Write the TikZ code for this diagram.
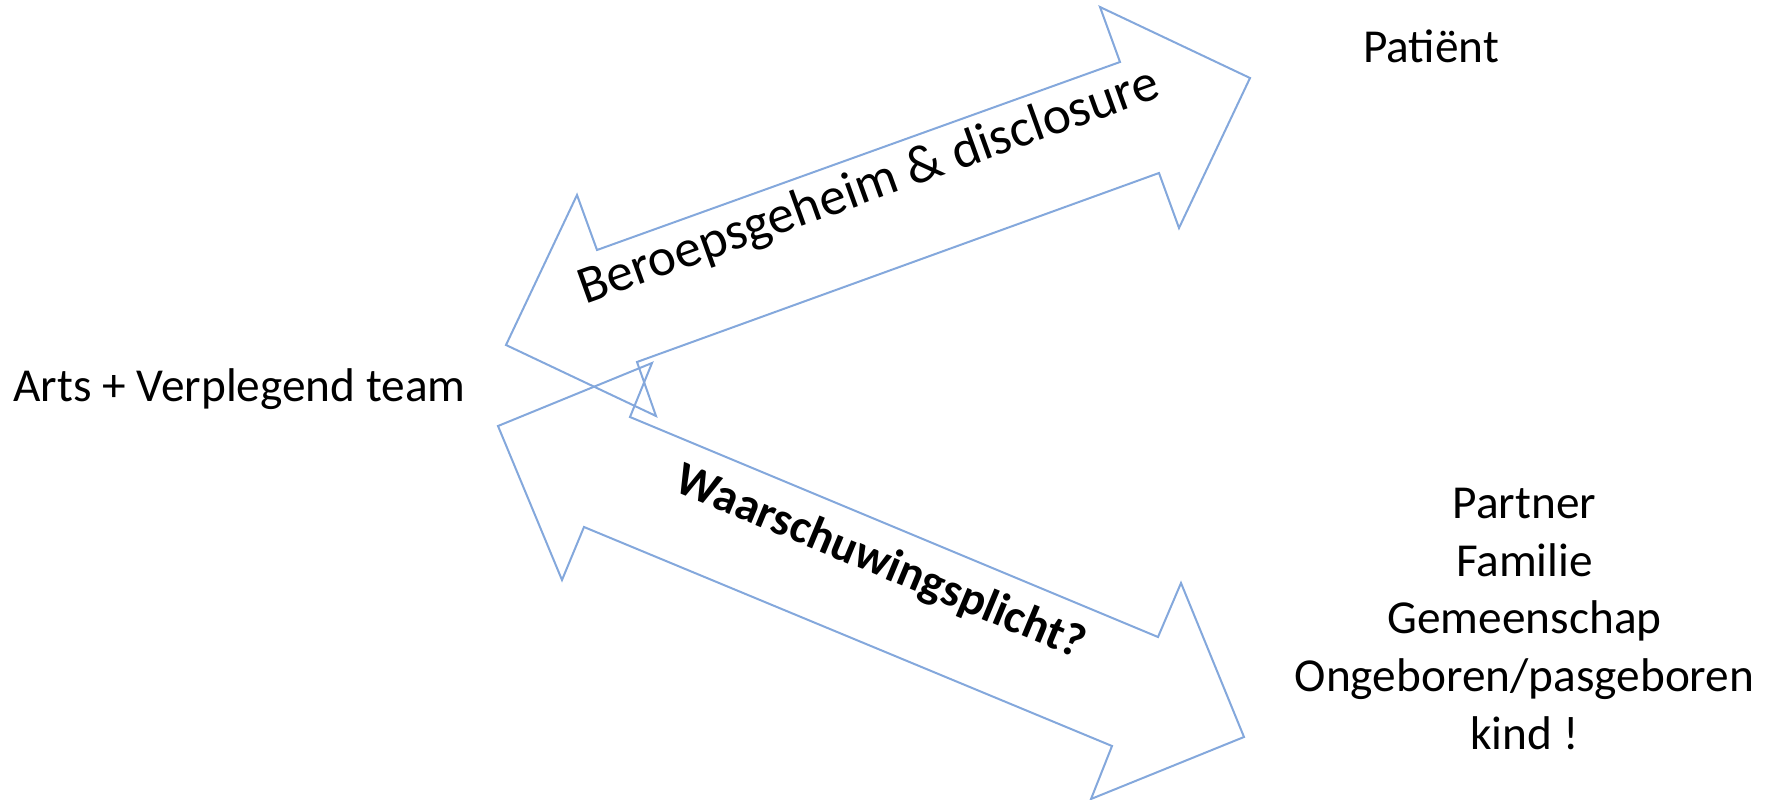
\documentclass[tikz,border=0pt]{standalone}
\usepackage{fontspec}
\setmainfont{Carlito}
\definecolor{arrowline}{RGB}{132,168,220}
\tikzset{
  blockarrow/.style={draw=arrowline, line width=2pt, line join=miter},
  plain/.style={inner sep=0pt, outer sep=0pt, font=\fontsize{47.3}{57.7}\selectfont},
  biglabel/.style={inner sep=0pt, outer sep=0pt, font=\fontsize{53.2}{64}\selectfont},
  boldlabel/.style={inner sep=0pt, outer sep=0pt, font=\fontsize{47.3}{57.7}\selectfont\bfseries}
}
\begin{document}
\begin{tikzpicture}[x=1pt, y=-1pt]
  \useasboundingbox (0,0) rectangle (1767,800);

  % double arrow between the team and the patient
  \draw[blockarrow] (506,345) -- (577,195) -- (597,250) -- (1120,62) -- (1100,7)
        -- (1250,78) -- (1179,228) -- (1159,173) -- (637,362) -- (656,416) -- cycle;

  % double arrow between the team and the third parties
  \draw[blockarrow] (498,426) -- (652,363) -- (630,417) -- (1158,637) -- (1181,583)
        -- (1244,737) -- (1091,799) -- (1112,746) -- (584,527) -- (562,580) -- cycle;

  % parties
  \node[plain, anchor=base west] (team) at (13.5,401.7) {Arts + Verplegend team};
  \node[plain, anchor=base] (patient) at (1431,62.3) {Patiënt};
  % the base anchor of this block sits on its last line
  \node[plain, anchor=base, align=center] (others) at (1524.5,749.3)
    {Partner\\Familie\\Gemeenschap\\Ongeboren/pasgeboren\\kind !};

  % arrow labels
  \node[biglabel, anchor=base west, rotate=19.8] (secret) at (585,304.5)
    {Beroepsgeheim \& disclosure};
  \node[boldlabel, anchor=base west, rotate=-22.6] (warn) at (672.5,490.6)
    {Waarschuwingsplicht?};
\end{tikzpicture}
\end{document}
